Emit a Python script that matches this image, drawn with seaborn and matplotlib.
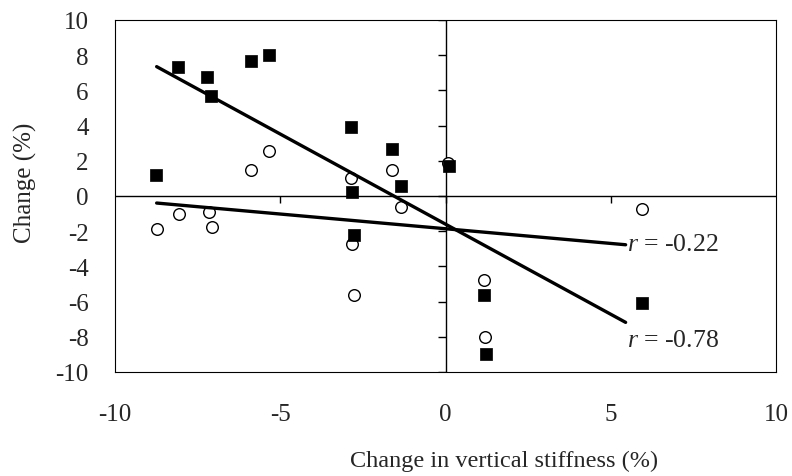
import numpy as np
import pandas as pd
import matplotlib
matplotlib.use("Agg")
import matplotlib.pyplot as plt
import seaborn as sns

# ---- data ----
sq_x = [-8.75, -8.09, -7.21, -7.11, -5.90, -5.35, -2.85, -2.83, -2.78, -1.61, -1.34, 0.12, 1.18, 1.23, 5.96]
sq_y = [1.20, 7.35, 6.78, 5.70, 7.65, 8.01, 3.90, 0.24, -2.20, 2.67, 0.59, 1.70, -5.60, -8.98, -6.08]

ci_x = [-8.72, -8.07, -7.16, -7.08, -5.90, -5.34, -2.87, -2.83, -2.78, -1.62, -1.34, 0.08, 1.16, 1.21, 5.96]
ci_y = [-1.88, -1.02, -0.93, -1.74, 1.50, 2.57, 1.02, -2.73, -5.63, 1.50, -0.64, 1.90, -4.75, -8.03, -0.74]

fit_x = [-8.74, 5.45]
fit_filled = [7.35, -7.18]
fit_open = [-0.40, -2.77]

r_labels = ["r = -0.22", "r = -0.78"]
r_label_y = [-2.75, -8.2]

xticks = [-10, -5, 0, 5, 10]
yticks = [-10, -8, -6, -4, -2, 0, 2, 4, 6, 8, 10]

sq_df = pd.DataFrame({"x": sq_x, "y": sq_y})
ci_df = pd.DataFrame({"x": ci_x, "y": ci_y})
fit_df = pd.DataFrame({"x": fit_x, "filled": fit_filled, "open": fit_open})

sns.set_style("white")
plt.rcParams["font.family"] = ["Liberation Serif", "DejaVu Serif"]
plt.rcParams["mathtext.fontset"] = "custom"
plt.rcParams["mathtext.it"] = "Liberation Serif:italic"
plt.rcParams["mathtext.rm"] = "Liberation Serif"

fig = plt.figure(figsize=(7.92, 4.77), dpi=100)
ax = fig.add_axes([115 / 792, 1 - 373 / 477, 661 / 792, 352 / 477])

# zero axes (Excel style crossing axes)
ax.axhline(0, color="black", lw=1.0, zorder=1)
ax.axvline(0, color="black", lw=1.0, zorder=1)
# tick marks on the crossing axes
ax.plot(np.zeros(len(yticks)), yticks, ls="none", marker=0, ms=6, mew=1.0, color="black", zorder=1)
ax.plot([t for t in xticks if t not in (-10, 10)], [0] * 3, ls="none", marker=3, ms=5, mew=1.0, color="black", zorder=1)

# circles (drawn first, behind squares)
sns.scatterplot(data=ci_df, x="x", y="y", ax=ax, marker="o", s=70,
                facecolor="white", edgecolor="black", linewidth=1.0, zorder=3)
sns.scatterplot(data=sq_df, x="x", y="y", ax=ax, marker="s", s=75,
                color="black", edgecolor="black", linewidth=0.5, zorder=4)

sns.lineplot(data=fit_df, x="x", y="filled", ax=ax, color="black", lw=2.4, zorder=5)
sns.lineplot(data=fit_df, x="x", y="open", ax=ax, color="black", lw=2.4, zorder=5)

for lab, yy in zip(r_labels, r_label_y):
    ax.text(5.5, yy, "$\\mathit{r}$" + lab[1:], fontsize=18.5, va="center", ha="left", zorder=6)

ax.set_xlim(-10, 10)
ax.set_ylim(-10, 10)
ax.set_xticks(xticks)
ax.set_yticks(yticks)
ax.set_xticklabels([str(t) for t in xticks])
ax.set_yticklabels([str(t) for t in yticks])
ax.tick_params(axis="both", length=0, labelsize=18)
ax.tick_params(axis="y", pad=19)
ax.tick_params(axis="x", pad=22)

for s in ax.spines.values():
    s.set_visible(True)
    s.set_color("black")
    s.set_linewidth(0.8)

ax.set_xlabel("Change in vertical stiffness (%)", fontsize=17.5)
ax.set_ylabel("Change (%)", fontsize=18)
ax.xaxis.set_label_coords(0.588, -0.222)
ax.yaxis.set_label_coords(-0.118, 0.54)

fig.savefig("out.png", dpi=100)
